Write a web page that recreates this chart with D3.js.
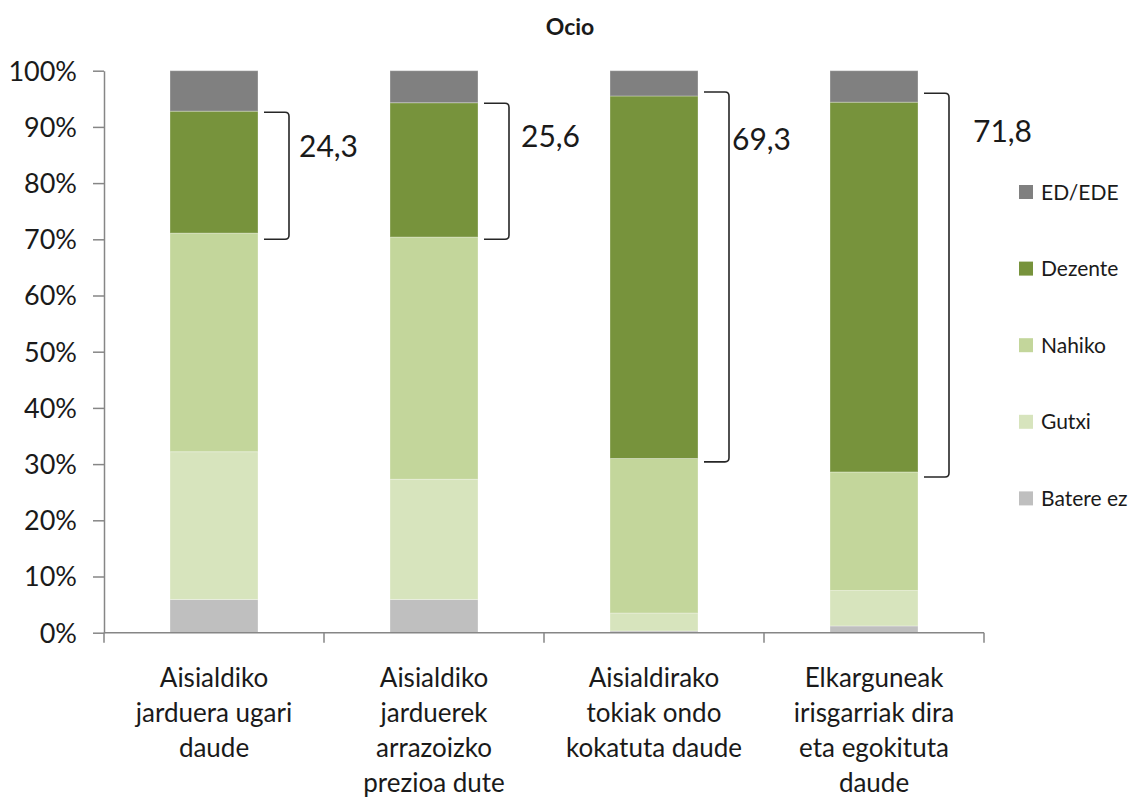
<!DOCTYPE html>
<html><head><meta charset="utf-8">
<script src="https://cdn.jsdelivr.net/npm/d3@7"></script>
<style>
body{margin:0;background:#fff}
svg{display:block}
text{font-family:Lato,"Open Sans",sans-serif;fill:#1a1a1a}
</style>
</head><body>
<svg id="chart" width="1142" height="800"></svg>
<script>
// ---- data ----
const title = "Ocio";
const categories = [
  "Aisialdiko\njarduera ugari\ndaude",
  "Aisialdiko\njarduerek\narrazoizko\nprezioa dute",
  "Aisialdirako\ntokiak ondo\nkokatuta daude",
  "Elkarguneak\nirisgarriak dira\neta egokituta\ndaude"
];
const seriesNames = ["Batere ez", "Gutxi", "Nahiko", "Dezente", "ED/EDE"];
const bateraEz = [5.9, 5.9, 0.3, 1.2];
const gutxi    = [26.3, 21.4, 3.2, 6.3];
const nahiko   = [38.9, 43.1, 27.5, 21.1];
const dezente  = [21.7, 23.9, 64.5, 65.8];
const edEde    = [7.2, 5.7, 4.5, 5.6];
const yTicks = [0, 10, 20, 30, 40, 50, 60, 70, 80, 90, 100];
const bracketLabels = ["24,3", "25,6", "69,3", "71,8"];
const bracketLow  = [70.0, 70.0, 30.4, 27.7];
const bracketHigh = [92.6, 94.2, 96.2, 96.0];

// ---- styling / layout ----
const colors = ["#bfbfbf", "#d7e4bd", "#c3d69b", "#77933c", "#808080"];
const labelDx = [10, 12, 3, 24];
const labelDy = [45, 44, 58, 49];

const plot = {left: 104, right: 984, top: 70.7, bottom: 632.7};
const svg = d3.select("#chart");

const seriesValues = [bateraEz, gutxi, nahiko, dezente, edEde];
const rows = categories.map((c, i) => {
  const r = {cat: c};
  seriesNames.forEach((s, j) => r[s] = seriesValues[j][i]);
  return r;
});
const stacked = d3.stack().keys(seriesNames)(rows);

const x = d3.scaleBand().domain(categories).range([plot.left, plot.right]).paddingInner(0).paddingOuter(0);
const y = d3.scaleLinear().domain([0, 100]).range([plot.bottom, plot.top]);
const barW = 88;
const bx = c => x(c) + (x.bandwidth() - barW) / 2;

// title
svg.append("text").attr("x", 570).attr("y", 35).attr("text-anchor", "middle")
  .style("font-weight", "bold").style("font-size", "23px").text(title);

// bars
svg.append("g").selectAll("g").data(stacked).join("g")
  .attr("fill", (d, i) => colors[i])
  .selectAll("rect").data(d => d).join("rect")
  .attr("x", d => bx(d.data.cat))
  .attr("width", barW)
  .attr("y", d => y(d[1]))
  .attr("height", d => y(d[0]) - y(d[1]))
  .attr("stroke", "#ffffff").attr("stroke-opacity", 0.3).attr("stroke-width", 1);

// y axis
const yAxis = svg.append("g").attr("transform", `translate(${plot.left},0)`)
  .call(d3.axisLeft(y).tickValues(yTicks).tickFormat(d => d + "%").tickSize(11).tickSizeOuter(0).tickPadding(16));
yAxis.select(".domain").attr("stroke", "#868686").attr("stroke-width", 1.5);
yAxis.selectAll(".tick line").attr("stroke", "#868686").attr("stroke-width", 1.5);
yAxis.selectAll(".tick text").style("font-size", "27px").style("font-family", "Lato").attr("fill", "#1a1a1a").attr("dy", "0.35em");

// x axis line and boundary ticks
const xg = svg.append("g");
xg.append("line").attr("x1", plot.left).attr("x2", plot.right).attr("y1", plot.bottom).attr("y2", plot.bottom)
  .attr("stroke", "#868686").attr("stroke-width", 1.5);
const bounds = categories.map(c => x(c)).concat([x.range()[1]]);
xg.selectAll("line.tk").data(bounds).join("line").attr("class", "tk")
  .attr("x1", d => d).attr("x2", d => d).attr("y1", plot.bottom).attr("y2", plot.bottom + 10)
  .attr("stroke", "#868686").attr("stroke-width", 1.5);

// category labels
const catG = svg.append("g").selectAll("text").data(categories).join("text")
  .attr("text-anchor", "middle").style("font-size", "26px")
  .attr("transform", c => `translate(${x(c) + x.bandwidth() / 2},687)`);
catG.selectAll("tspan").data(c => c.split("\n")).join("tspan")
  .attr("x", 0).attr("dy", (d, i) => i === 0 ? 0 : 35).text(d => d);

// brackets
const r = 4;
categories.forEach((c, i) => {
  const x0 = bx(c) + barW + 6, x1 = bx(c) + barW + 31;
  const yt = y(bracketHigh[i]), yb = y(bracketLow[i]);
  const p = d3.path();
  p.moveTo(x0, yt); p.lineTo(x1 - r, yt); p.quadraticCurveTo(x1, yt, x1, yt + r);
  p.lineTo(x1, yb - r); p.quadraticCurveTo(x1, yb, x1 - r, yb); p.lineTo(x0, yb);
  svg.append("path").attr("d", p.toString()).attr("fill", "none").attr("stroke", "#262626").attr("stroke-width", 1.6);
  svg.append("text").attr("x", x1 + labelDx[i]).attr("y", yt + labelDy[i])
    .style("font-size", "30px").text(bracketLabels[i]);
});

// legend
const legendItems = seriesNames.map((s, i) => ({name: s, color: colors[i]})).reverse();
const lg = svg.append("g").selectAll("g").data(legendItems).join("g")
  .attr("transform", (d, i) => `translate(1019,${192 + i * 76.6})`);
lg.append("rect").attr("x", 0).attr("y", -7).attr("width", 14).attr("height", 14).attr("fill", d => d.color);
lg.append("text").attr("x", 22).attr("dy", "0.36em").style("font-size", "21px").text(d => d.name);
</script>
</body></html>
